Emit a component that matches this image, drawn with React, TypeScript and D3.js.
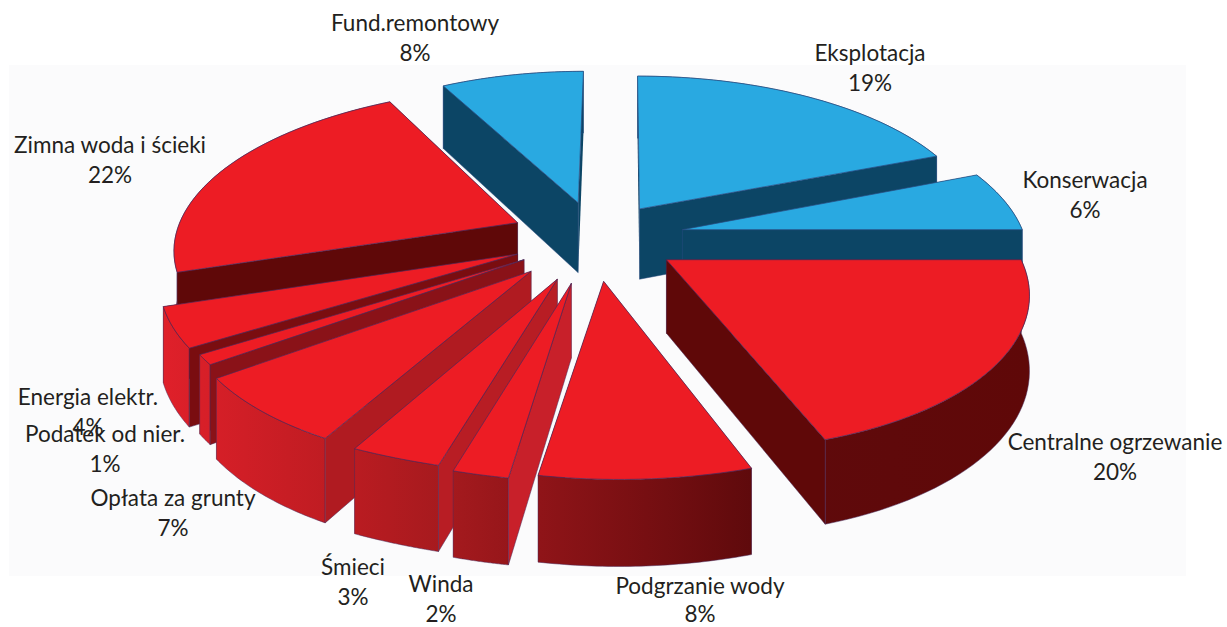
import React from "react";
import * as d3 from "d3";

const categories = ["Fund.remontowy","Eksplotacja","Konserwacja","Centralne ogrzewanie","Podgrzanie wody","Winda","Śmieci","Opłata za grunty","Podatek od nier.","Energia elektr.","Zimna woda i ścieki"];
const shares = [8,19,6,20,8,2,3,7,1,4,22];
const groups = ["blue","blue","blue","red","red","red","red","red","red","red","red"];

// layout tables (separate from data)
const explodes = [0.23,0.22,0.25,0.24,0.27,0.29,0.28,0.28,0.25,0.25,0.25];
const rimLean: [number,number][] = [[9,3],[3,-2],[-8,-6],[0,22],[18,12],[20,15],[16,1],[0,7],[5,5],[0,0],[4,12]];
const faceColors = ["#0c4565","#0c4565","#0c4565","#5f0808","#7a1014","#c8202a","#b81d24","#b01b21","#8a1218","#7a0d10","#5f0808"];
const labelAnchors: [number,number][] = [[415,24],[870,54],[1085,181],[1115,443],[700,587],[441,585],[353,568],[173,499],[105,435],[88,398],[110,146]];

const W = 1227, H = 627;
const CX = 597.5, CY = 237, RX = 348, RY = 158, P = 0.136, DEPTH = 72;
const rad = (d: number) => d * Math.PI / 180;

const pieGen = d3.pie<number>().sort(null).startAngle(rad(-28.8)).endAngle(rad(331.2));
const arcs = pieGen(shares);

const scaleAt = (Y: number) => 1 / (1 + P * Y);

function project(theta: number, r: number, bis: number, e: number, down: number, lean = 0): [number, number] {
  const X = r * Math.sin(theta) + e * Math.sin(bis);
  const Y = r * Math.cos(theta) + e * Math.cos(bis);
  const s = scaleAt(Y);
  return [CX + RX * X * s + lean, CY - RY * Y * s + down * DEPTH * s];
}

const line = d3.line<[number, number]>();

export default function App() {
  const slices = arcs.map((a, i) => {
    const bis = (a.startAngle + a.endAngle) / 2;
    const e = explodes[i];
    const leanAt = d3.scaleLinear().domain([a.startAngle, a.endAngle]).range(rimLean[i]);
    const steps = d3.range(0, 41).map(k => a.startAngle + (a.endAngle - a.startAngle) * k / 40);
    const rimTop = steps.map(t => project(t, 1, bis, e, 0, leanAt(t)));
    const rimBot = steps.map(t => project(t, 1, bis, e, 1, leanAt(t)));
    const apexT = project(0, 0, bis, e, 0);
    const apexB = project(0, 0, bis, e, 1);
    const top = line([apexT, ...rimTop]) + "Z";
    const wall = line([...rimTop, ...rimBot.slice().reverse()]) + "Z";
    const face1 = line([apexT, rimTop[0], rimBot[0], apexB]) + "Z";
    const face2 = line([apexT, rimTop[40], rimBot[40], apexB]) + "Z";
    // the face turned towards the viewer is painted last
    const faces = Math.sin(bis) < 0 ? [face2, face1] : [face1, face2];
    // a slice pointing straight at the viewer shows neither cut face
    const bothHidden = Math.cos(bis) < -0.98 && a.endAngle - a.startAngle > rad(20);
    return { i, top, wall, faces, bothHidden, depthKey: Math.cos(bis) };
  }).sort((a, b) => b.depthKey - a.depthKey);

  return (
    <svg width={W} height={H} style={{ position: "absolute", left: 0, top: 0, background: "#fff" }}>
      <defs>
        <linearGradient id="redWall" gradientUnits="userSpaceOnUse" x1={160} x2={1030} y1={0} y2={0}>
          <stop offset="0" stopColor="#e0202a" />
          <stop offset="0.195" stopColor="#bf1c22" />
          <stop offset="0.33" stopColor="#a51a1e" />
          <stop offset="0.437" stopColor="#8f1418" />
          <stop offset="0.68" stopColor="#5f0a0c" />
          <stop offset="1" stopColor="#5f0808" />
        </linearGradient>
      </defs>
      <rect x={9} y={65} width={1177} height={511} fill="#fbfbfc" />
      {slices.map(s => {
        const blue = groups[s.i] === "blue";
        const edge = blue ? "#2a4a80" : "#4a2a5a";
        return (
          <g key={s.i} strokeLinejoin="round">
            <path d={s.faces[0]} fill={faceColors[s.i]} stroke="none" />
            {s.bothHidden && <path d={s.faces[1]} fill={faceColors[s.i]} stroke="none" />}
            <path d={s.wall} fill={blue ? "#0c4565" : "url(#redWall)"} stroke={edge} strokeWidth={0.5} />
            {!s.bothHidden && <path d={s.faces[1]} fill={faceColors[s.i]} stroke={edge} strokeWidth={0.5} />}
            <path d={s.top} fill={blue ? "#29a9e1" : "#ed1c24"} stroke={edge} strokeWidth={0.7} />
          </g>
        );
      })}
      <g fontFamily="Lato, 'Open Sans', sans-serif" fontSize={22.5} fill="#231f20" textAnchor="middle">
        {categories.map((c, i) => (
          <text key={c} x={labelAnchors[i][0]} y={labelAnchors[i][1] + 7}>
            <tspan x={labelAnchors[i][0]}>{c}</tspan>
            <tspan x={labelAnchors[i][0]} dy={i === 4 ? 28 : 29.5}>{shares[i]}%</tspan>
          </text>
        ))}
      </g>
    </svg>
  );
}
